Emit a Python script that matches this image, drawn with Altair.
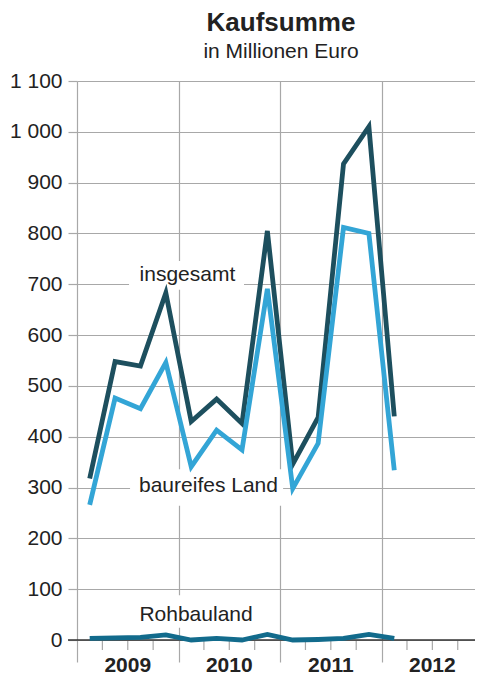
import altair as alt
import pandas as pd

# ---- data ----
years = ["2009", "2010", "2011", "2012"]
quarters = ["2009 Q1", "2009 Q2", "2009 Q3", "2009 Q4",
            "2010 Q1", "2010 Q2", "2010 Q3", "2010 Q4",
            "2011 Q1", "2011 Q2", "2011 Q3", "2011 Q4",
            "2012 Q1"]
insgesamt = [318, 548, 539, 683, 430, 474, 426, 805, 346, 438, 937, 1010, 440]
baureifes = [266, 476, 455, 546, 341, 413, 374, 691, 298, 387, 812, 800, 334]
rohbauland = [3, 4, 5, 10, 0, 3, 0, 11, 0, 1, 3, 11, 3]
series_names = ["insgesamt", "baureifes Land", "Rohbauland"]
series_colors = ["#1d4f5e", "#33a5d6", "#126b8c"]
y_ticks = list(range(0, 1200, 100))

# label annotations (data units)
label_text = ["insgesamt", "baureifes Land", "Rohbauland"]
label_x = [4.35, 5.18, 4.69]
label_y = [718, 303, 50]
box_x1 = [2.05, 2.09, 2.17]
box_x2 = [6.58, 8.12, 7.21]
box_y1 = [689, 264, 24]
box_y2 = [746, 336, 88]

W, H = 398, 559
X_MAX = 15.68
FONT = "Liberation Sans"
GRID = "#a8a8a8"
TXT = "#222222"

rows = []
for name, vals in zip(series_names, [insgesamt, baureifes, rohbauland]):
    for i, (q, v) in enumerate(zip(quarters, vals)):
        rows.append({"series": name, "quarter": q, "pos": i + 0.5, "value": v})
df = pd.DataFrame(rows)

xscale = alt.Scale(domain=[0, X_MAX], nice=False, zero=False)
yscale = alt.Scale(domain=[0, 1100], nice=False)

base_axes = alt.Chart(pd.DataFrame({"pos": [0, 4, 8, 12], "value": [0, 0, 0, 0]})).mark_point(opacity=0).encode(
    x=alt.X("pos:Q", scale=xscale, title=None,
            axis=alt.Axis(values=[0, 4, 8, 12], grid=True, gridColor=GRID, gridWidth=1.2,
                          tickColor=GRID, tickSize=22, tickWidth=1.2, labels=False, domain=False)),
    y=alt.Y("value:Q", scale=yscale, title=None,
            axis=alt.Axis(values=y_ticks, grid=True, gridColor=GRID, gridWidth=1.2,
                          tickColor=GRID, tickSize=9, tickWidth=1.2, domain=False,
                          labelFontSize=21, labelFont=FONT, labelColor=TXT, labelPadding=6,
                          labelExpr="replace(format(datum.value, ','), ',', ' ')")),
)

qdf = pd.DataFrame({"pos": [p for p in range(1, 16) if p % 4 != 0]})
qticks = alt.Chart(qdf).mark_rule(color=GRID, strokeWidth=1.2).encode(
    x="pos:Q", y=alt.value(H), y2=alt.value(H + 10))

zero = alt.Chart(pd.DataFrame({"value": [0]})).mark_rule(color="#333333", strokeWidth=1.6).encode(
    y="value:Q", x=alt.value(-9), x2=alt.value(W))

ydf = pd.DataFrame({"pos": [2, 6, 10, 14], "year": years})
year_labels = alt.Chart(ydf).mark_text(fontSize=21, fontWeight="bold", font=FONT, color=TXT,
                                       baseline="middle").encode(
    x="pos:Q", y=alt.value(H + 26), text="year:N")

ldf = pd.DataFrame({"text": label_text, "x": label_x, "y": label_y,
                    "x1": box_x1, "x2": box_x2, "y1": box_y1, "y2": box_y2})
boxes = alt.Chart(ldf).mark_rect(color="white").encode(
    x="x1:Q", x2="x2:Q", y="y1:Q", y2="y2:Q")
labels = alt.Chart(ldf).mark_text(fontSize=21, font=FONT, color=TXT, baseline="middle").encode(
    x="x:Q", y="y:Q", text="text:N")

lines = alt.Chart(df).mark_line(strokeWidth=4.8, strokeJoin="miter", strokeCap="butt").encode(
    x="pos:Q", y="value:Q",
    color=alt.Color("series:N", scale=alt.Scale(domain=series_names, range=series_colors), legend=None),
    detail="series:N")

chart = alt.layer(base_axes, qticks, zero, year_labels, boxes, labels, lines).properties(
    width=W, height=H,
    autosize=alt.AutoSizeParams(type="none"),
    padding={"left": 69, "top": 73, "right": 0, "bottom": 38},
    title=alt.TitleParams(text="Kaufsumme", subtitle="in Millionen Euro",
                          fontSize=26, fontWeight="bold", font=FONT, color=TXT,
                          subtitleFontSize=21, subtitleFont=FONT, subtitleColor=TXT,
                          subtitlePadding=5, anchor="middle", offset=8, dx=5),
).configure_view(stroke=None)

chart.save("out.html", embed_options={"renderer": "svg", "actions": False})
